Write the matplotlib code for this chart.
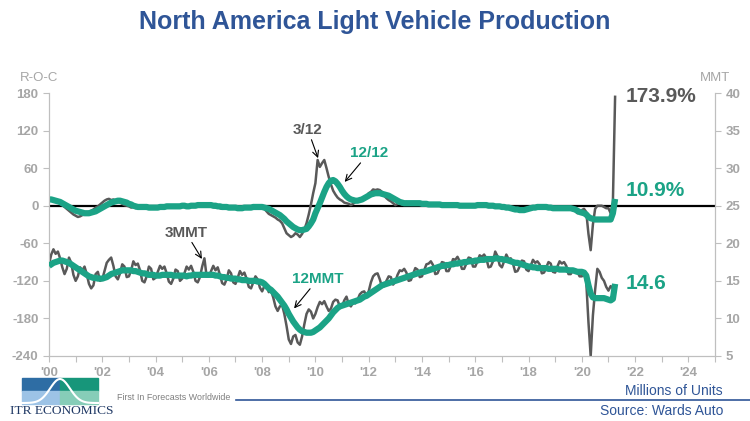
import numpy as np
import matplotlib.pyplot as plt
from matplotlib.patches import Rectangle

plt.rcParams['font.family'] = ['Liberation Sans', 'DejaVu Sans']
plt.rcParams['axes.unicode_minus'] = False

# monthly data, Jan 2000 .. Apr 2021
roc_3_12 = [
    9, 10, 8, 7, 6, 3, 1, -2, -5, -8, -11, -14,
    -16, -18, -17, -15, -14, -13, -10, -8, -6, -3, -1, 2,
    5, 8, 10, 11, 9, 10, 8, 6, 5, 3, 1, 0,
    -1, -3, -2, -4, -3, -2, -1, -3, -2, -1, -2, -3,
    -2, -1, -3, -2, -1, 0, -1, -2, 0, -1, 0, 1,
    0, -1, 1, 0, -2, 1, 2, 0, 1, 3, 4, 2,
    1, -1, -2, -3, -2, -4, -5, -3, -4, -5, -3, -4,
    -4, -6, -5, -3, -2, -4, -3, -2, -1, -3, -2, -2,
    -3, -5, -9, -13, -15, -17, -19, -22, -24, -28, -36, -44,
    -47, -50, -48, -44, -46, -50, -45, -38, -28, -14, 2, 20,
    36, 73, 62, 68, 73, 60, 46, 34, 24, 18, 13, 10,
    8, 5, 4, 3, 1, 3, 6, 9, 8, 10, 12, 15,
    20, 22, 26, 25, 26, 25, 22, 16, 12, 9, 7, 4,
    1, 3, 5, 2, 4, 6, 3, 5, 4, 2, 3, 5,
    4, 2, 1, 3, 2, 4, 1, 2, 3, 0, 1, 2,
    1, 3, 0, 2, 1, 0, 2, -1, 0, 1, 2, 0,
    1, 2, 1, 0, 2, 1, -1, 0, 1, -1, 0, -2,
    -3, -2, -4, -5, -6, -7, -8, -6, -7, -5, -6, -4,
    -3, -1, -2, -1, 0, -1, -2, -1, -2, -3, -4, -3,
    -3, -5, -4, -3, -4, -5, -3, -4, -6, -8, -12, -10,
    -7, -5, -10, -45, -71, -30, -5, 0, 0, 0, -2, -4,
    -4, -12, 5, 173.9,
]

roc_12_12 = [
    10, 10, 9, 8, 7, 6, 4, 2, 0, -2, -4, -6,
    -8, -9, -10, -11, -12, -12, -12, -11, -10, -9, -7, -5,
    -3, -1, 1, 3, 5, 6, 7, 8, 8, 7, 6, 5,
    3, 2, 0, -1, -2, -2, -2, -2, -2, -3, -3, -3,
    -3, -3, -2, -2, -2, -1, -1, -1, -1, -1, -1, -1,
    0, 0, -1, -1, 0, 0, 0, 1, 1, 1, 1, 1,
    1, 1, 0, 0, -1, -1, -2, -2, -2, -3, -3, -3,
    -3, -4, -4, -4, -3, -3, -3, -3, -2, -2, -2, -2,
    -2, -3, -4, -5, -7, -9, -11, -13, -15, -18, -21, -25,
    -28, -31, -34, -36, -38, -39, -39, -38, -37, -33, -28, -22,
    -12, -4, 4, 13, 22, 30, 36, 40, 41, 39, 35, 30,
    24, 19, 15, 12, 10, 9, 8, 8, 9, 10, 12, 14,
    16, 18, 19, 20, 20, 20, 19, 18, 17, 16, 14, 12,
    10, 8, 6, 5, 4, 4, 4, 4, 4, 4, 4, 4,
    3, 3, 3, 2, 2, 2, 2, 2, 2, 1, 1, 1,
    1, 1, 1, 1, 1, 0, 0, 0, 0, 0, 0, 0,
    0, 1, 1, 1, 1, 1, 0, 0, 0, -1, -1, -1,
    -2, -2, -3, -3, -4, -5, -6, -6, -7, -7, -7, -6,
    -5, -4, -3, -3, -2, -2, -2, -2, -2, -3, -3, -4,
    -4, -4, -4, -4, -4, -4, -4, -4, -5, -6, -8, -10,
    -11, -12, -14, -18, -20, -21, -22, -22, -22, -22, -22, -22,
    -22, -22, -12, 10.9,
]

mmt_3 = [
    17.2, 18.5, 19.2, 18.6, 18.9, 18.0, 16.8, 15.9, 16.6, 18.1, 17.4, 15.8,
    15.0, 15.6, 16.8, 16.4, 16.9, 15.9, 14.6, 14.0, 14.4, 15.9, 16.2, 15.0,
    15.2, 16.3, 17.4, 17.8, 18.1, 17.0, 15.6, 15.2, 16.0, 17.2, 16.9, 15.5,
    15.6, 16.4, 17.6, 17.1, 17.3, 16.4, 15.0, 14.8, 15.6, 16.9, 16.6, 15.2,
    15.4, 16.2, 17.0, 16.6, 16.9, 16.0, 14.9, 14.6, 15.3, 16.5, 16.3, 15.0,
    15.3, 16.0, 16.9, 16.5, 17.0, 16.2, 15.0, 14.8, 15.5, 16.9, 18.0, 15.6,
    15.6, 16.3, 17.0, 16.4, 16.8, 15.8, 14.7, 14.5, 15.2, 16.4, 16.0, 14.8,
    14.6, 15.4, 16.3, 15.8, 16.1, 15.3, 14.2, 14.0, 14.8, 15.6, 15.2, 14.1,
    13.6, 14.3, 14.4, 13.5, 13.7, 12.8, 11.6, 11.0, 11.6, 11.8, 10.6, 9.0,
    7.2, 6.6, 7.6, 7.8, 6.8, 6.5, 7.6, 9.2, 10.6, 11.2, 10.9, 10.0,
    10.6, 11.5, 12.2, 11.9, 12.3, 11.6, 11.0, 11.3, 12.2, 12.5, 12.4, 11.6,
    11.6, 12.4, 12.9, 11.9, 11.6, 12.2, 12.0, 12.5, 13.2, 13.5, 13.6, 13.0,
    13.6, 14.8, 15.6, 15.9, 16.0, 15.2, 14.2, 14.3, 15.0, 15.6, 15.5, 14.5,
    14.9, 15.8, 16.4, 16.3, 16.6, 16.1, 15.0, 15.1, 15.9, 16.7, 16.5, 15.5,
    15.6, 16.4, 17.2, 17.3, 17.6, 17.1, 15.9, 16.0, 16.7, 17.5, 17.4, 16.3,
    16.3, 17.0, 17.9, 17.8, 18.2, 17.6, 16.6, 16.6, 17.3, 18.1, 18.0, 16.9,
    16.9, 17.6, 18.4, 18.2, 18.5, 18.0, 16.8, 16.9, 17.6, 18.9, 18.3, 17.1,
    16.8, 17.6, 18.5, 17.9, 18.0, 17.3, 16.2, 16.3, 16.9, 17.7, 17.6, 16.5,
    16.3, 17.0, 17.8, 17.4, 17.6, 17.2, 16.0, 16.1, 16.8, 17.5, 17.3, 16.2,
    16.1, 16.9, 17.6, 17.3, 17.5, 17.0, 15.9, 15.9, 16.4, 16.5, 16.2, 15.6,
    15.6, 16.0, 14.9, 9.5, 5.0, 10.4, 13.8, 16.6, 16.2, 15.4, 15.0, 14.2,
    13.7, 14.3, 14.0, 14.1,
]

mmt_12 = [
    17.0, 17.2, 17.4, 17.5, 17.6, 17.7, 17.7, 17.6, 17.5, 17.4, 17.2, 17.0,
    16.8, 16.6, 16.4, 16.2, 16.0, 15.8, 15.6, 15.5, 15.4, 15.4, 15.3, 15.3,
    15.3, 15.4, 15.5, 15.7, 15.9, 16.0, 16.1, 16.2, 16.3, 16.4, 16.4, 16.4,
    16.4, 16.4, 16.3, 16.3, 16.2, 16.1, 16.0, 16.0, 15.9, 15.8, 15.8, 15.8,
    15.7, 15.7, 15.7, 15.8, 15.8, 15.8, 15.8, 15.8, 15.7, 15.7, 15.7, 15.7,
    15.7, 15.7, 15.6, 15.7, 15.7, 15.8, 15.8, 15.8, 15.8, 15.8, 15.8, 15.8,
    15.8, 15.8, 15.8, 15.7, 15.7, 15.6, 15.5, 15.5, 15.4, 15.4, 15.3, 15.3,
    15.3, 15.2, 15.2, 15.1, 15.1, 15.1, 15.0, 15.0, 15.0, 15.0, 14.9, 14.9,
    14.8, 14.6, 14.3, 14.0, 13.8, 13.5, 13.2, 12.9, 12.5, 12.1, 11.7, 11.2,
    10.6, 10.1, 9.6, 9.2, 8.8, 8.5, 8.3, 8.2, 8.1, 8.1, 8.1, 8.2,
    8.4, 8.6, 8.8, 9.1, 9.4, 9.7, 10.0, 10.4, 10.8, 11.1, 11.4, 11.6,
    11.7, 11.8, 11.9, 12.0, 12.1, 12.2, 12.3, 12.4, 12.5, 12.7, 12.9, 13.0,
    13.2, 13.4, 13.6, 13.8, 14.0, 14.2, 14.4, 14.5, 14.6, 14.7, 14.8, 14.9,
    15.0, 15.1, 15.2, 15.3, 15.4, 15.5, 15.6, 15.7, 15.8, 15.9, 16.0, 16.1,
    16.2, 16.2, 16.3, 16.4, 16.5, 16.6, 16.7, 16.8, 16.9, 17.0, 17.0, 17.1,
    17.1, 17.2, 17.2, 17.3, 17.3, 17.4, 17.4, 17.5, 17.5, 17.6, 17.6, 17.6,
    17.7, 17.7, 17.8, 17.8, 17.8, 17.9, 17.9, 17.9, 17.9, 18.0, 18.0, 17.9,
    17.9, 17.8, 17.8, 17.7, 17.6, 17.5, 17.4, 17.4, 17.3, 17.2, 17.1, 17.0,
    16.9, 16.9, 16.8, 16.8, 16.7, 16.7, 16.7, 16.7, 16.7, 16.6, 16.6, 16.6,
    16.6, 16.6, 16.5, 16.5, 16.5, 16.5, 16.4, 16.4, 16.4, 16.3, 16.2, 16.2,
    16.2, 16.1, 15.7, 14.4, 13.3, 12.8, 12.7, 12.7, 12.7, 12.7, 12.7, 12.6,
    12.5, 12.4, 12.6, 14.6,
]

year_ticks = list(range(2000, 2025, 2))
year_labels = ["'%02d" % (y % 100) for y in year_ticks]

GRAY = '#595959'
TEAL = '#1BA386'
AXC = '#A6A6A6'
BLUE = '#2F5597'

t = 2000 + np.arange(len(mmt_3)) / 12.0

fig = plt.figure(figsize=(7.5, 4.21), dpi=100)
ax = fig.add_axes([49/750, 1-356/421, (715-49)/750, (356-93)/421])
ax2 = ax.twinx()

ax.axhline(0, color='black', lw=1.6, zorder=1)
ax.plot(t, roc_3_12, color=GRAY, lw=1.8, zorder=2)
ax.plot(t, roc_12_12, color=TEAL, lw=4.5, zorder=3, solid_capstyle='butt')
ax2.plot(t, mmt_3, color=GRAY, lw=1.8, zorder=2)
ax2.plot(t, mmt_12, color=TEAL, lw=4.5, zorder=3, solid_capstyle='butt')

ax.set_xlim(2000, 2025)
ax.set_ylim(-240, 180)
ax2.set_ylim(5, 40)
ax.set_yticks(range(-240, 181, 60))
ax2.set_yticks(range(5, 41, 5))
ax.set_xticks(year_ticks)
ax.set_xticklabels(year_labels)
ax.set_xticks(range(2000, 2026), minor=True)

for a in (ax, ax2):
    a.spines['top'].set_visible(False)
    for s in ('left', 'right', 'bottom'):
        a.spines[s].set_color('#BFBFBF')
    a.tick_params(colors='#BFBFBF', labelcolor=AXC, labelsize=9.5, length=4, width=0.8)
    a.tick_params(which='minor', colors='#BFBFBF', length=4, width=0.8)
ax.tick_params(axis='x', pad=4)
for lab in ax.get_yticklabels() + ax2.get_yticklabels() + ax.get_xticklabels():
    lab.set_fontweight('bold')

fig.text(20/750, 1-78/421, 'R-O-C', color=AXC, fontsize=9.5, va='center', ha='left')
fig.text(730/750, 1-78/421, 'MMT', color=AXC, fontsize=9.5, va='center', ha='right')

fig.text(0.5, 1-22/421, 'North America Light Vehicle Production', color=BLUE,
         fontsize=18, fontweight='bold', ha='center', va='center')

arrow = dict(arrowstyle='->', color='black', lw=0.8, shrinkA=0, shrinkB=0)
ax.annotate('3/12', xy=(2010.1, 76), xytext=(2009.72, 121), color=GRAY, fontsize=11,
            fontweight='bold', ha='center', va='center', arrowprops=arrow)
ax.annotate('12/12', xy=(2011.1, 38), xytext=(2012.0, 84), color=TEAL, fontsize=11,
            fontweight='bold', ha='center', va='center', arrowprops=arrow)
ax.annotate('3MMT', xy=(2005.74, -85), xytext=(2005.14, -43), color=GRAY, fontsize=11,
            fontweight='bold', ha='center', va='center', arrowprops=arrow)
ax.annotate('12MMT', xy=(2009.2, -164), xytext=(2010.1, -117), color=TEAL, fontsize=11,
            fontweight='bold', ha='center', va='center', arrowprops=arrow)

ax.text(2021.66, roc_3_12[-1], '%.1f%%' % roc_3_12[-1], color=GRAY, fontsize=15,
        fontweight='bold', va='center', ha='left')
ax.text(2021.66, 25, '%.1f%%' % roc_12_12[-1], color=TEAL, fontsize=15,
        fontweight='bold', va='center', ha='left')
ax2.text(2021.66, mmt_12[-1], '%.1f' % mmt_12[-1], color=TEAL, fontsize=15,
         fontweight='bold', va='center', ha='left')

# footer: logo, tagline, rule, notes
def fx(x):
    return x / 750

def fy(y):
    return 1 - y / 421

logo = [(22, 378, '#2E6DA4'), (60, 378, '#17967A'),
        (22, 391, '#9DC3E6'), (60, 391, '#86CDB8')]
for x0, y0, c in logo:
    fig.patches.append(Rectangle((fx(x0), fy(y0 + 12.5)), 38/750, 12.5/421,
                                 transform=fig.transFigure, color=c, zorder=0))
cx = np.linspace(22, 98, 60)
cy = 403 - 24 * np.exp(-((cx - 60) / 14) ** 2)
fig.lines.append(plt.Line2D(fx(cx), fy(cy), transform=fig.transFigure,
                            color='white', lw=1.5))
fig.text(fx(10), fy(411), 'ITR ECONOMICS', family=['Liberation Serif', 'DejaVu Serif'],
         color='#1F3864', fontsize=9.6, ha='left', va='center')
fig.text(fx(117), fy(398), 'First In Forecasts Worldwide', color='#7F7F7F',
         fontsize=6.4, ha='left', va='center')
fig.lines.append(plt.Line2D([fx(236), 1], [fy(400), fy(400)], transform=fig.transFigure,
                            color=BLUE, lw=1.2))
fig.text(fx(723), fy(391), 'Millions of Units', color=BLUE, fontsize=10,
         ha='right', va='center')
fig.text(fx(723), fy(411), 'Source: Wards Auto', color=BLUE, fontsize=10,
         ha='right', va='center')

fig.savefig('out.png', dpi=100)
